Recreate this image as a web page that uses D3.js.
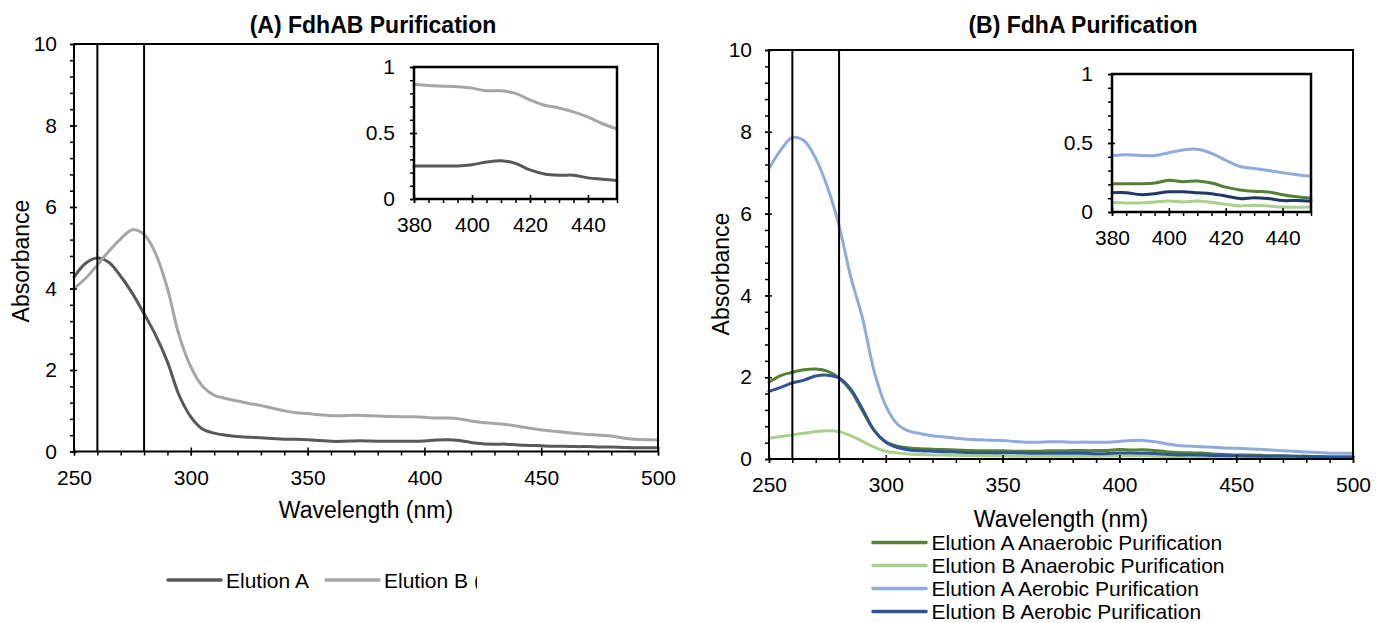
<!DOCTYPE html>
<html><head><meta charset="utf-8">
<script src="https://cdnjs.cloudflare.com/ajax/libs/d3/7.8.5/d3.min.js"></script>
<style>
body{margin:0;background:#fff}
svg{display:block}
text{font-family:"Liberation Sans",Arial,sans-serif;fill:#000}
</style>
</head><body>
<svg id="chart" width="1385" height="623"></svg>
<script>
// ---------- DATA ----------
const wavelengths = [250,255,260,265,270,275,280,285,290,295,300,305,310,315,320,325,330,335,340,345,350,355,360,365,370,375,380,385,390,395,400,405,410,415,420,425,430,435,440,445,450,455,460,465,470,475,480,485,490,495,500];

// Panel A: FdhAB purification
const fdhAB_elutionA = [4.28,4.62,4.75,4.64,4.30,3.88,3.38,2.85,2.20,1.38,0.85,0.55,0.45,0.40,0.37,0.35,0.34,0.32,0.30,0.30,0.29,0.27,0.25,0.25,0.26,0.26,0.25,0.25,0.25,0.25,0.26,0.28,0.29,0.27,0.22,0.19,0.18,0.18,0.16,0.15,0.14,0.13,0.13,0.12,0.12,0.11,0.11,0.10,0.09,0.09,0.09];
const fdhAB_elutionB = [4.00,4.25,4.58,4.92,5.22,5.44,5.33,4.85,4.00,2.85,2.08,1.60,1.38,1.30,1.24,1.18,1.13,1.06,1.00,0.95,0.93,0.90,0.88,0.88,0.89,0.88,0.87,0.86,0.855,0.85,0.84,0.82,0.82,0.80,0.75,0.71,0.69,0.66,0.62,0.57,0.53,0.50,0.47,0.44,0.42,0.40,0.38,0.33,0.30,0.29,0.28];

// Panel B: FdhA purification
const fdhA_anaerobicA = [1.88,2.04,2.12,2.18,2.20,2.15,1.98,1.67,1.18,0.70,0.42,0.31,0.27,0.25,0.24,0.23,0.22,0.21,0.20,0.20,0.20,0.19,0.19,0.19,0.20,0.20,0.205,0.205,0.205,0.21,0.23,0.22,0.225,0.21,0.18,0.16,0.15,0.145,0.125,0.11,0.10,0.10,0.09,0.08,0.08,0.07,0.07,0.06,0.05,0.05,0.05];
const fdhA_anaerobicB = [0.51,0.55,0.59,0.63,0.67,0.69,0.67,0.57,0.43,0.29,0.19,0.15,0.12,0.11,0.10,0.095,0.09,0.085,0.08,0.08,0.075,0.07,0.07,0.07,0.07,0.07,0.068,0.066,0.066,0.073,0.08,0.073,0.08,0.07,0.056,0.044,0.049,0.044,0.036,0.034,0.036,0.03,0.03,0.025,0.02,0.02,0.02,0.02,0.02,0.02,0.02];
const fdhA_aerobicA = [7.10,7.55,7.86,7.78,7.35,6.65,5.70,4.45,3.45,2.15,1.30,0.85,0.68,0.62,0.57,0.54,0.51,0.48,0.47,0.46,0.45,0.43,0.41,0.41,0.42,0.42,0.41,0.415,0.41,0.41,0.43,0.45,0.455,0.425,0.375,0.33,0.315,0.30,0.285,0.27,0.26,0.25,0.24,0.22,0.20,0.19,0.17,0.16,0.14,0.14,0.14];
const fdhA_aerobicB = [1.65,1.75,1.86,1.93,2.03,2.05,1.98,1.71,1.22,0.70,0.41,0.28,0.22,0.20,0.19,0.18,0.17,0.16,0.155,0.15,0.15,0.15,0.145,0.14,0.14,0.14,0.14,0.14,0.126,0.133,0.146,0.146,0.14,0.133,0.116,0.097,0.104,0.097,0.083,0.083,0.078,0.075,0.07,0.07,0.07,0.065,0.06,0.055,0.05,0.05,0.05];

const legendA = ["Elution A", "Elution B ("];
const legendB = ["Elution A Anaerobic Purification","Elution B Anaerobic Purification","Elution A Aerobic Purification","Elution B Aerobic Purification"];
const titles = ["(A) FdhAB Purification", "(B) FdhA Purification"];
const xTitle = "Wavelength (nm)";
const yTitle = "Absorbance";

const mainXTicks = [250,300,350,400,450,500];
const mainYTicks = [0,2,4,6,8,10];
const insetXTicks = [380,400,420,440];
const insetYTicks = [0,0.5,1];
const markerWavelengths = [260,280];

// ---------- DRAW ----------
const svg = d3.select('#chart');
const FONT = '"Liberation Sans",Arial,sans-serif';

function styleAxis(s, size){
  s.attr('font-size', size).attr('font-family', FONT);
  s.select('.domain').remove();
  s.selectAll('.tick line').attr('stroke','#000').attr('stroke-width',1.5);
  s.selectAll('.tick text').attr('fill','#000');
}

function axes(g, x, y, o){
  const L = x.range()[0], B = y.range()[0];
  g.append('g').attr('transform',`translate(${L},0)`)
    .call(d3.axisLeft(y).tickValues(o.yMinor).tickSize(4).tickFormat(''))
    .call(s=>styleAxis(s,o.fs));
  g.append('g').attr('transform',`translate(${L},0)`)
    .call(d3.axisLeft(y).tickValues(o.yTicks).tickSize(4).tickPadding(o.yPad).tickFormat(d=>String(d)))
    .call(s=>styleAxis(s,o.fs))
    .call(s=>s.selectAll('.tick line').attr('x1',3));
  g.append('g').attr('transform',`translate(0,${B})`)
    .call(d3.axisBottom(x).tickValues(o.xMinor).tickSize(4).tickFormat(''))
    .call(s=>styleAxis(s,o.fs));
  g.append('g').attr('transform',`translate(0,${B})`)
    .call(d3.axisBottom(x).tickValues(o.xTicks).tickSize(4).tickPadding(o.xPad).tickFormat(d=>String(d)))
    .call(s=>styleAxis(s,o.fs))
    .call(s=>s.selectAll('.tick line').attr('y1',-4));
}

function drawLines(g, x, y, series, filter){
  const line = d3.line().x(d=>x(d[0])).y(d=>y(d[1])).curve(d3.curveCatmullRom.alpha(0.5));
  series.forEach(s=>{
    let pts = wavelengths.map((w,i)=>[w, s.values[i]]);
    if (filter) pts = pts.filter(filter);
    g.append('path').attr('d', line(pts)).attr('fill','none')
      .attr('stroke', s.color).attr('stroke-width', 3).attr('stroke-linejoin','round').attr('stroke-linecap','round');
  });
}

function panel(p){
  const g = svg.append('g');
  const x = d3.scaleLinear().domain([250,500]).range([p.left, p.right]);
  const y = d3.scaleLinear().domain([0,10]).range([p.bottom, p.top]);

  drawLines(g, x, y, p.series);

  markerWavelengths.forEach(w=>{
    g.append('line').attr('x1',x(w)).attr('x2',x(w)).attr('y1',p.top).attr('y2',p.bottom)
      .attr('stroke','#000').attr('stroke-width',2);
  });

  g.append('rect').attr('x',p.left).attr('y',p.top).attr('width',p.right-p.left).attr('height',p.bottom-p.top)
    .attr('fill','none').attr('stroke','#000').attr('stroke-width',2);

  axes(g, x, y, {
    yTicks: mainYTicks, yMinor: d3.range(0,10.01,0.4),
    xTicks: mainXTicks, xMinor: d3.range(250,501,10),
    fs: 21, yPad: 13, xPad: 14.5
  });

  // inset
  const ix = d3.scaleLinear().domain([380,450]).range([p.inset.left, p.inset.right]);
  const iy = d3.scaleLinear().domain([0,1]).range([p.inset.bottom, p.inset.top]);
  g.append('rect').attr('x',p.inset.left).attr('y',p.inset.top)
    .attr('width',p.inset.right-p.inset.left).attr('height',p.inset.bottom-p.inset.top)
    .attr('fill','#fff');
  drawLines(g, ix, iy, p.series.map(s=>({values:s.values, color:s.insetColor||s.color})), d=>d[0]>=380 && d[0]<=450);
  g.append('rect').attr('x',p.inset.left).attr('y',p.inset.top)
    .attr('width',p.inset.right-p.inset.left).attr('height',p.inset.bottom-p.inset.top)
    .attr('fill','none').attr('stroke','#000').attr('stroke-width',2.5);
  axes(g, ix, iy, {
    yTicks: insetYTicks, yMinor: d3.range(0,1.001,0.1),
    xTicks: insetXTicks, xMinor: d3.range(380,451,5),
    fs: 21, yPad: 15, xPad: 14
  });

  g.append('text').attr('x',p.titleX).attr('y',33).attr('text-anchor','middle')
    .attr('font-size',23).attr('font-weight','bold').text(p.title);
  g.append('text').attr('x',(p.left+p.right)/2).attr('y',p.xTitleY).attr('text-anchor','middle')
    .attr('font-size',23).text(xTitle);
  g.append('text').attr('transform',`translate(${p.yTitleX},${p.yTitleY}) rotate(-90)`)
    .attr('text-anchor','middle').attr('font-size',23).text(yTitle);
  return g;
}

const colA = ['#595959','#a6a6a6'];
const colB = ['#548235','#a9d18e','#8faadc','#2f5597'];

panel({
  left:74, right:658, top:44, bottom:451.5,
  inset:{left:414, right:617, top:67, bottom:199},
  series:[{values:fdhAB_elutionA,color:colA[0]},{values:fdhAB_elutionB,color:colA[1]}],
  title:titles[0], titleX:373, xTitleY:518, yTitleX:29, yTitleY:261
});
panel({
  left:769, right:1353, top:50, bottom:459,
  inset:{left:1112, right:1311, top:74, bottom:212},
  series:[{values:fdhA_anaerobicA,color:colB[0]},{values:fdhA_anaerobicB,color:colB[1]},
          {values:fdhA_aerobicA,color:colB[2]},{values:fdhA_aerobicB,color:colB[3],insetColor:'#1f3864'}],
  title:titles[1], titleX:1083, xTitleY:527, yTitleX:729, yTitleY:274
});

// legend A (clipped at right like the reference)
svg.append('clipPath').attr('id','clipLegA').append('rect').attr('x',0).attr('y',540).attr('width',477).attr('height',80);
const lgA = svg.append('g').attr('clip-path','url(#clipLegA)');
const legAX = [168, 326];
legendA.forEach((t,i)=>{
  lgA.append('line').attr('x1',legAX[i]).attr('x2',legAX[i]+53).attr('y1',580).attr('y2',580)
    .attr('stroke',colA[i]).attr('stroke-width',3.5).attr('stroke-linecap','round');
  lgA.append('text').attr('x',legAX[i]+58).attr('y',587.5).attr('font-size',21).text(t);
});

// legend B
const lgB = svg.append('g');
legendB.forEach((t,i)=>{
  const yy = 542.5 + i*23;
  lgB.append('line').attr('x1',873).attr('x2',926).attr('y1',yy).attr('y2',yy)
    .attr('stroke',colB[i]).attr('stroke-width',3.5).attr('stroke-linecap','round');
  lgB.append('text').attr('x',931.5).attr('y',yy+7.2).attr('font-size',21).text(t);
});
</script>
</body></html>
